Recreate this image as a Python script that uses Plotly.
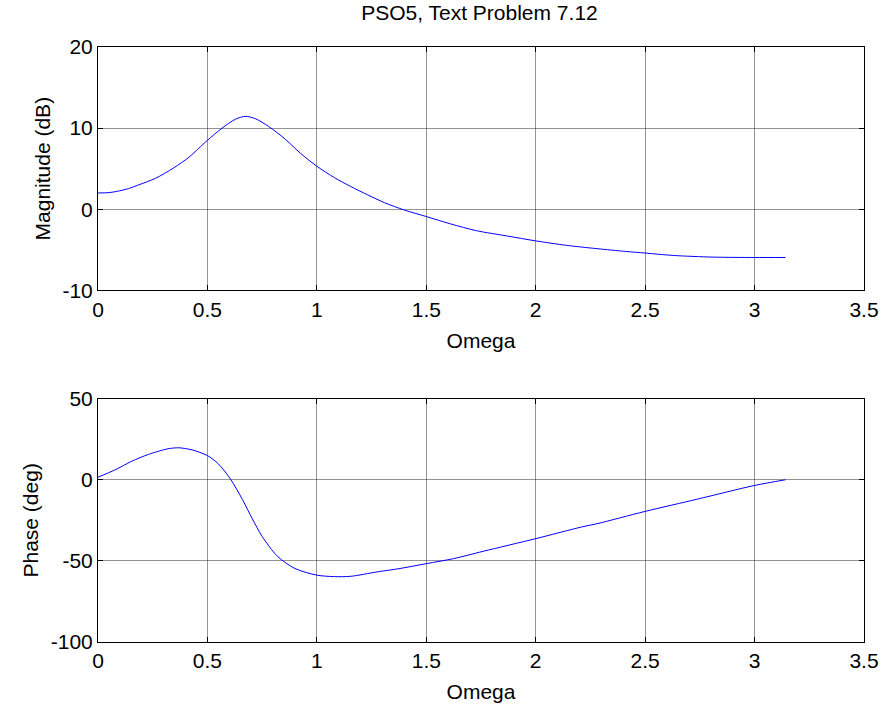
import plotly.graph_objects as go
from plotly.subplots import make_subplots

# ---- data ----
w_mag = [0, 0.05, 0.086, 0.14, 0.185, 0.262, 0.346, 0.415, 0.46, 0.5, 0.567, 0.628, 0.674,
         0.72, 0.78, 0.857, 0.925, 1.0, 1.08, 1.155, 1.23, 1.31, 1.40, 1.5, 1.61, 1.73,
         1.87, 2.0, 2.14, 2.28, 2.41, 2.5, 2.63, 2.81, 3.0, 3.1416]
mag_db = [2.0, 2.05, 2.2, 2.55, 3.0, 3.8, 5.1, 6.4, 7.5, 8.5, 10.0, 11.1, 11.45,
          11.15, 10.2, 8.6, 6.9, 5.3, 3.9, 2.8, 1.8, 0.8, -0.1, -0.9, -1.8, -2.65,
          -3.3, -3.9, -4.45, -4.86, -5.2, -5.4, -5.7, -5.9, -5.95, -5.95]

w_ph = [0, 0.078, 0.154, 0.23, 0.32, 0.37, 0.43, 0.5, 0.55, 0.605, 0.66, 0.705, 0.75,
        0.82, 0.9, 1.0, 1.08, 1.155, 1.275, 1.38, 1.5, 1.625, 1.76, 2.0, 2.21, 2.28,
        2.5, 2.74, 3.0, 3.1416]
phase_deg = [1.6, 6.1, 11.4, 15.6, 19.1, 19.7, 18.4, 14.9, 9.8, 0.5, -12.2, -24, -34.9,
             -47.2, -54.7, -58.8, -59.7, -59.5, -56.8, -54.7, -51.7, -48.6, -44.1, -36.3,
             -29.1, -27.1, -19.5, -11.9, -3.5, 0]

x_ticks = [0, 0.5, 1, 1.5, 2, 2.5, 3, 3.5]
x_tick_labels = ["0", "0.5", "1", "1.5", "2", "2.5", "3", "3.5"]
mag_ticks = [-10, 0, 10, 20]
mag_tick_labels = ["-10", "0", "10", "20"]
phase_ticks = [-100, -50, 0, 50]
phase_tick_labels = ["-100", "-50", "0", "50"]

title_text = "PSO5, Text Problem 7.12"

FONT = "Arial, Liberation Sans, sans-serif"
FS = 21

fig = make_subplots(rows=2, cols=1, vertical_spacing=0.182)

fig.add_trace(go.Scatter(x=w_mag, y=mag_db, mode="lines",
                         line=dict(color="#0000ff", width=1, shape="spline", smoothing=0.8),
                         showlegend=False), row=1, col=1)
fig.add_trace(go.Scatter(x=w_ph, y=phase_deg, mode="lines",
                         line=dict(color="#0000ff", width=1, shape="spline", smoothing=0.8),
                         showlegend=False), row=2, col=1)

axis_common = dict(showline=True, linecolor="black", linewidth=1, mirror="ticks",
                   ticks="inside", ticklen=5, tickcolor="black", tickwidth=1,
                   showgrid=True, gridcolor="rgba(0,0,0,0.42)", gridwidth=1,
                   zeroline=False, automargin=False,
                   tickfont=dict(family=FONT, size=FS, color="black"))

for r in (1, 2):
    fig.update_xaxes(range=[0, 3.5], tickvals=x_ticks, ticktext=x_tick_labels,
                     title=dict(text="Omega", font=dict(family=FONT, size=FS, color="black"),
                                standoff=13),
                     row=r, col=1, **axis_common)

fig.update_yaxes(range=[-10, 20], tickvals=mag_ticks, ticktext=mag_tick_labels,
                 title=dict(text="Magnitude (dB)", font=dict(family=FONT, size=FS, color="black"),
                            standoff=6),
                 row=1, col=1, **axis_common)
fig.update_yaxes(range=[-100, 50], tickvals=phase_ticks, ticktext=phase_tick_labels,
                 title=dict(text="Phase (deg)", font=dict(family=FONT, size=FS, color="black"),
                            standoff=6),
                 row=2, col=1, **axis_common)

fig.update_layout(
    width=883, height=704,
    margin=dict(l=98, r=19, t=47, b=62),
    paper_bgcolor="white", plot_bgcolor="white",
    title=dict(text=title_text, x=0.543, xanchor="center", y=0.982, yanchor="middle",
               font=dict(family=FONT, size=FS, color="black")),
    showlegend=False,
)

fig.write_html("out.html", config={"displayModeBar": False},
               post_script="document.body.style.margin='0px';")
